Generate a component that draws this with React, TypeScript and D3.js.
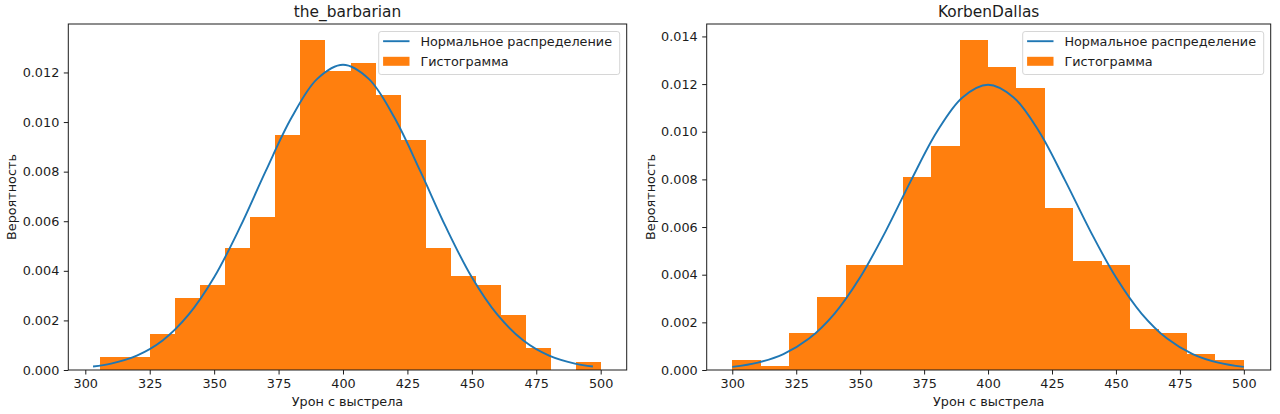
import React, { useEffect, useRef } from 'react';
import * as d3 from 'd3';

// shared x ticks
const xTicks = [300, 325, 350, 375, 400, 425, 450, 475, 500];
const legendLabels = ['Нормальное распределение', 'Гистограмма'];

// the_barbarian
const barbarianEdges = [305.7, 315.4, 325.2, 334.9, 344.6, 354.3, 364.1, 373.8, 383.5, 393.2, 403.0,
    412.7, 422.4, 432.1, 441.9, 451.6, 461.3, 471.0, 480.8, 490.5, 500.2];
const barbarianDensity = [0.00051, 0.00051, 0.00144, 0.00292, 0.00343, 0.00491, 0.00619, 0.00948, 0.01329, 0.01204,
    0.01240, 0.01110, 0.00928, 0.00491, 0.00381, 0.00343, 0.00222, 0.00090, 0, 0.00034];
const barbarianCurveX = [303, 310, 320, 330, 340, 350, 360, 370, 380, 390, 400, 410, 420, 430, 440, 450, 460, 470, 480, 490, 497];
const barbarianCurveY = [0.00014, 0.00026, 0.00058, 0.00119, 0.00222, 0.00374, 0.00575, 0.00802, 0.01017, 0.01174, 0.01231,
    0.01174, 0.01017, 0.00802, 0.00575, 0.00374, 0.00222, 0.00119, 0.00058, 0.00026, 0.00014];
const barbarianYTicks = [0, 0.002, 0.004, 0.006, 0.008, 0.010, 0.012];

// KorbenDallas
const korbenEdges = [300, 311.1, 322.2, 333.3, 344.4, 355.6, 366.7, 377.8, 388.9, 400,
    411.1, 422.2, 433.3, 444.4, 455.6, 466.7, 477.8, 488.9, 500];
const korbenDensity = [0.00042, 0.00018, 0.00154, 0.00305, 0.00440, 0.00440, 0.00812, 0.00942, 0.01383,
    0.01271, 0.01184, 0.00678, 0.00459, 0.00440, 0.00171, 0.00154, 0.00066, 0.00042];
const korbenCurveX = [300, 310, 320, 330, 340, 350, 360, 370, 380, 390, 400, 410, 420, 430, 440, 450, 460, 470, 480, 490, 500];
const korbenCurveY = [0.00013, 0.00031, 0.00067, 0.00132, 0.00237, 0.00389, 0.00583, 0.00798, 0.01000, 0.01144, 0.01197,
    0.01144, 0.01000, 0.00798, 0.00583, 0.00389, 0.00237, 0.00132, 0.00067, 0.00031, 0.00013];
const korbenYTicks = [0, 0.002, 0.004, 0.006, 0.008, 0.010, 0.012, 0.014];

const FONT = '"DejaVu Sans", Verdana, sans-serif';
const TEXT = '#1c1c1c';
const ORANGE = '#ff7f0e';
const BLUE = '#1f77b4';
const FS = 12.8;

interface PanelProps {
    title: string;
    edges: number[];
    density: number[];
    curveX: number[];
    curveY: number[];
    yTicks: number[];
    xDomain: [number, number];
    left: number;
    right: number;
}

const TOP = 24;
const BOTTOM = 370;

const Panel: React.FC<PanelProps> = ({ title, edges, density, curveX, curveY, yTicks, xDomain, left, right }) => {
    const xAxisRef = useRef<SVGGElement | null>(null);
    const yAxisRef = useRef<SVGGElement | null>(null);

    const x = d3.scaleLinear().domain(xDomain).range([left, right]);
    const yMax = d3.max(density)! * 1.05;
    const y = d3.scaleLinear().domain([0, yMax]).range([BOTTOM, TOP]);

    useEffect(() => {
        const gx = d3.select(xAxisRef.current!);
        gx.call(d3.axisBottom(x).tickValues(xTicks).tickSize(4.5).tickPadding(4.5).tickFormat(d3.format('d')) as any);
        gx.select('.domain').remove();
        gx.attr('font-family', FONT).attr('font-size', FS);
        gx.selectAll('text').attr('fill', TEXT);
        gx.selectAll('line').attr('stroke', TEXT);

        const gy = d3.select(yAxisRef.current!);
        gy.call(d3.axisLeft(y).tickValues(yTicks).tickSize(4.5).tickPadding(4.5).tickFormat(d3.format('.3f')) as any);
        gy.select('.domain').remove();
        gy.attr('font-family', FONT).attr('font-size', FS);
        gy.selectAll('text').attr('fill', TEXT);
        gy.selectAll('line').attr('stroke', TEXT);
    }, [x, y, yTicks]);

    const line = d3.line<number>()
        .x((_, i) => x(curveX[i]))
        .y(d => y(d))
        .curve(d3.curveCatmullRom);

    const legendW = 241;
    const legendX = right - 7 - legendW;
    const legendY = TOP + 7.5;

    return (
        <g>
            {density.map((d, i) => (
                <rect key={i}
                    x={x(edges[i])}
                    y={y(d)}
                    width={x(edges[i + 1]) - x(edges[i])}
                    height={BOTTOM - y(d)}
                    fill={ORANGE}
                    shapeRendering="crispEdges" />
            ))}
            <path d={line(curveY) || ''} fill="none" stroke={BLUE} strokeWidth={1.9} />

            <rect x={left} y={TOP} width={right - left} height={BOTTOM - TOP} fill="none" stroke={TEXT} strokeWidth={1} />
            <g ref={xAxisRef} transform={`translate(0,${BOTTOM})`} />
            <g ref={yAxisRef} transform={`translate(${left},0)`} />

            <text x={(left + right) / 2} y={17.3} textAnchor="middle" fontFamily={FONT} fontSize={15.4} fill={TEXT}>{title}</text>
            <text x={(left + right) / 2} y={406} textAnchor="middle" fontFamily={FONT} fontSize={FS} fill={TEXT}>Урон с выстрела</text>
            <text transform={`translate(${left - 56.6},${(TOP + BOTTOM) / 2}) rotate(-90)`} textAnchor="middle"
                dominantBaseline="central" fontFamily={FONT} fontSize={FS} fill={TEXT}>Вероятность</text>

            <g transform={`translate(${legendX},${legendY})`}>
                <rect x={0} y={0} width={legendW} height={43} rx={2.5} fill="white" fillOpacity={0.8} stroke="#d6d6d6" strokeWidth={1} />
                <line x1={4.4} x2={30.8} y1={9.7} y2={9.7} stroke={BLUE} strokeWidth={1.9} />
                <rect x={4.4} y={25.3} width={26.4} height={9} fill={ORANGE} />
                <text x={41.7} y={14.2} fontFamily={FONT} fontSize={FS} fill={TEXT}>{legendLabels[0]}</text>
                <text x={41.7} y={34.4} fontFamily={FONT} fontSize={FS} fill={TEXT}>{legendLabels[1]}</text>
            </g>
        </g>
    );
};

const App: React.FC = () => {
    return (
        <svg width={1280} height={414} style={{ position: 'absolute', left: 0, top: 0, background: 'white' }}>
            <rect width={1280} height={414} fill="white" />
            <Panel title="the_barbarian" edges={barbarianEdges} density={barbarianDensity}
                curveX={barbarianCurveX} curveY={barbarianCurveY} yTicks={barbarianYTicks}
                xDomain={[293.4, 510.1]} left={68.3} right={626.7} />
            <Panel title="KorbenDallas" edges={korbenEdges} density={korbenDensity}
                curveX={korbenCurveX} curveY={korbenCurveY} yTicks={korbenYTicks}
                xDomain={[290, 510.5]} left={706.7} right={1270.7} />
        </svg>
    );
};

export default App;
